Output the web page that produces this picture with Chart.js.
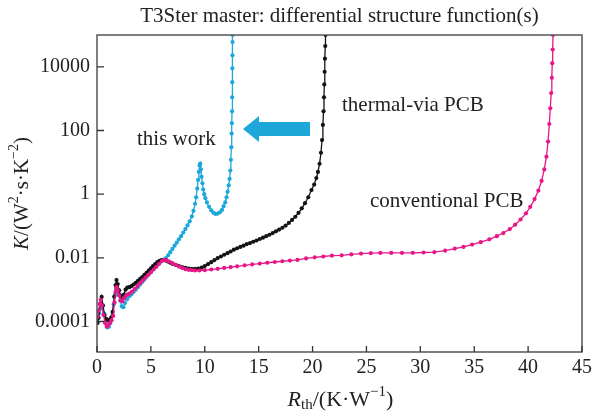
<!DOCTYPE html>
<html>
<head>
<meta charset="utf-8">
<script src="https://cdn.jsdelivr.net/npm/chart.js@4"></script>
<style>
  body { margin: 0; background: #fff; }
</style>
</head>
<body>
<canvas id="myChart" width="596" height="414"></canvas>
<script>
// "this work" (cyan)
const cyanX = [0.05, 0.2, 0.35, 0.5, 0.65, 0.8, 0.95, 1.1, 1.25, 1.4, 1.55, 1.7, 1.85, 2.0, 2.15, 2.3, 2.45, 2.6, 2.8, 3.0,
  3.2, 3.4, 3.6, 3.8, 4.0, 4.2, 4.4, 4.6, 4.8, 5.0, 5.2, 5.4, 5.6, 5.8, 6.0, 6.2, 6.4, 6.6, 6.8, 7.0,
  7.2, 7.4, 7.6, 7.8, 8.0, 8.2, 8.4, 8.6, 8.8, 8.95, 9.1, 9.2, 9.3, 9.38, 9.45, 9.52, 9.58, 9.64, 9.7, 9.78,
  9.86, 9.95, 10.05, 10.2, 10.4, 10.6, 10.8, 11.0, 11.2, 11.4, 11.6, 11.75, 11.9, 12.02, 12.12, 12.22, 12.3, 12.37, 12.42, 12.46,
  12.49, 12.51, 12.53, 12.54, 12.55, 12.56, 12.57, 12.58, 12.59];
const cyanY = [1.2e-4, 1.8e-4, 2.6e-4, 2.9e-4, 1.8e-4, 9e-5, 6.5e-5, 6.8e-5, 9e-5, 1.5e-4, 3.5e-4, 7e-4, 9.5e-4, 7e-4, 4.5e-4, 3e-4, 2.8e-4, 3.8e-4, 5e-4, 6.2e-4,
  7.2e-4, 8.5e-4, 1.0e-3, 1.2e-3, 1.45e-3, 1.75e-3, 2.1e-3, 2.55e-3, 3.05e-3, 3.6e-3, 4.3e-3, 5.1e-3, 6.0e-3, 6.9e-3, 7.8e-3, 8.6e-3, 9.8e-3, 0.012, 0.015, 0.019,
  0.024, 0.030, 0.038, 0.048, 0.062, 0.08, 0.105, 0.14, 0.2, 0.3, 0.5, 0.8, 1.5, 2.8, 5, 8, 9.2, 6, 3.5, 2.2,
  1.4, 1.0, 0.75, 0.55, 0.4, 0.31, 0.26, 0.24, 0.245, 0.27, 0.32, 0.42, 0.55, 0.8, 1.2, 1.9, 3, 5.5, 12, 30,
  80, 170, 400, 1100, 3300, 9000, 23000, 60000, 100000];

// "thermal-via PCB" (black)
const blackX = [0.05, 0.15, 0.3, 0.43, 0.55, 0.7, 0.85, 1.0, 1.15, 1.3, 1.45, 1.6, 1.72, 1.81, 1.92, 2.05, 2.2, 2.35, 2.5, 2.65,
  2.8, 3.0, 3.2, 3.4, 3.6, 3.8, 4.0, 4.2, 4.4, 4.6, 4.8, 5.0, 5.2, 5.4, 5.6, 5.8, 6.0, 6.2, 6.4, 6.6,
  6.8, 7.0, 7.3, 7.6, 7.9, 8.2, 8.5, 8.8, 9.1, 9.4, 9.7, 10.0, 10.3, 10.6, 10.9, 11.2, 11.5, 11.8, 12.1, 12.4,
  12.7, 13.0, 13.3, 13.6, 13.9, 14.2, 14.5, 14.8, 15.1, 15.4, 15.7, 16.0, 16.3, 16.6, 16.9, 17.2, 17.5, 17.8, 18.1, 18.4,
  18.7, 19.0, 19.3, 19.6, 19.9, 20.15, 20.35, 20.5, 20.65, 20.78, 20.88, 20.96, 21.02, 21.06, 21.09, 21.12, 21.15, 21.18, 21.2];
const blackY = [9e-5, 1.3e-4, 3.5e-4, 5.9e-4, 3.2e-4, 1.6e-4, 1.2e-4, 1.1e-4, 1.1e-4, 1.3e-4, 2e-4, 6e-4, 1.4e-3, 2.0e-3, 1.5e-3, 9.5e-4, 6.5e-4, 5e-4, 7e-4, 1.0e-3,
  1.15e-3, 1.2e-3, 1.3e-3, 1.45e-3, 1.65e-3, 1.9e-3, 2.2e-3, 2.5e-3, 2.9e-3, 3.4e-3, 4.0e-3, 4.7e-3, 5.5e-3, 6.4e-3, 7.3e-3, 8.0e-3, 8.5e-3, 8.6e-3, 8.2e-3, 7.6e-3,
  7.0e-3, 6.5e-3, 6.0e-3, 5.5e-3, 5.1e-3, 4.8e-3, 4.6e-3, 4.5e-3, 4.5e-3, 4.6e-3, 4.9e-3, 5.5e-3, 6.3e-3, 7.3e-3, 8.5e-3, 9.8e-3, 0.011, 0.0125, 0.014, 0.0158,
  0.018, 0.02, 0.022, 0.024, 0.027, 0.029, 0.032, 0.035, 0.039, 0.043, 0.048, 0.053, 0.06, 0.068, 0.077, 0.088, 0.103, 0.125, 0.155, 0.195,
  0.26, 0.36, 0.52, 0.8, 1.35, 2.0, 3.2, 5, 9, 20, 50, 150, 400, 1100, 2800, 7000, 18000, 45000, 100000];

// "conventional PCB" (magenta)
const pinkX = [0.05, 0.15, 0.25, 0.34, 0.45, 0.6, 0.75, 0.9, 1.05, 1.2, 1.35, 1.5, 1.62, 1.72, 1.81, 1.92, 2.05, 2.2, 2.35, 2.5,
  2.65, 2.8, 3.0, 3.25, 3.5, 3.75, 4.0, 4.25, 4.5, 4.75, 5.0, 5.25, 5.5, 5.75, 6.0, 6.2, 6.45, 6.7, 7.0, 7.3,
  7.6, 7.9, 8.2, 8.5, 8.8, 9.1, 9.5, 10.0, 10.6, 11.2, 11.8, 12.4, 13.0, 13.7, 14.4, 15.1, 15.8, 16.5, 17.2, 17.9,
  18.6, 19.4, 20.2, 21.0, 21.8, 22.7, 23.6, 24.5, 25.4, 26.3, 27.3, 28.3, 29.3, 30.3, 31.3, 32.3, 33.2, 34.0, 34.8, 35.6,
  36.4, 37.1, 37.7, 38.3, 38.8, 39.3, 39.8, 40.2, 40.6, 40.95, 41.25, 41.5, 41.7, 41.85, 41.97, 42.06, 42.14, 42.2, 42.24, 42.28, 42.31];
const pinkY = [1.4e-4, 2.2e-4, 3.6e-4, 4.8e-4, 3.2e-4, 1.6e-4, 9e-5, 7e-5, 7.5e-5, 9e-5, 1.1e-4, 1.5e-4, 4e-4, 8.5e-4, 1.2e-3, 9.5e-4, 6.5e-4, 4.6e-4, 4.3e-4, 5.3e-4,
  6.3e-4, 7e-4, 7.5e-4, 8.7e-4, 1.05e-3, 1.3e-3, 1.6e-3, 1.95e-3, 2.4e-3, 2.9e-3, 3.5e-3, 4.3e-3, 5.2e-3, 6.4e-3, 7.8e-3, 8.6e-3, 8.3e-3, 7.6e-3, 6.8e-3, 6.0e-3,
  5.3e-3, 4.8e-3, 4.4e-3, 4.2e-3, 4.1e-3, 4.0e-3, 4.0e-3, 4.1e-3, 4.3e-3, 4.5e-3, 4.8e-3, 5.1e-3, 5.4e-3, 5.8e-3, 6.2e-3, 6.6e-3, 7.0e-3, 7.4e-3, 7.8e-3, 8.2e-3,
  8.6e-3, 9.6e-3, 0.0104, 0.011, 0.0117, 0.012, 0.0128, 0.0136, 0.014, 0.0143, 0.0142, 0.0142, 0.0144, 0.0147, 0.015, 0.0168, 0.0195, 0.022, 0.026, 0.031,
  0.038, 0.048, 0.06, 0.08, 0.11, 0.16, 0.25, 0.4, 0.7, 1.3, 2.6, 6, 15, 45, 160, 500, 1500, 4500, 13000, 35000, 100000];

const xTicks = [0, 5, 10, 15, 20, 25, 30, 35, 40, 45];
const yTicks = [0.0001, 0.01, 1, 100, 10000];
const yTickLabels = ["0.0001", "0.01", "1", "100", "10000"];

const titleText = "T3Ster master: differential structure function(s)";
const seriesNames = ["this work", "thermal-via PCB", "conventional PCB"];

const CYAN = "rgb(28, 168, 218)";
const BLACK = "rgb(20, 20, 20)";
const PINK = "rgb(232, 22, 135)";
const SERIF = '"Liberation Serif", "Times New Roman", serif';

function toPoints(xs, ys) {
  return xs.map((x, i) => ({ x: x, y: ys[i] }));
}

function drawRuns(ctx, runs, cx, cy, size) {
  let total = 0;
  const fontOf = (r) => (r.it ? "italic " : "") + ((r.sup || r.sub) ? Math.round(size * 0.68) : size) + "px " + SERIF;
  runs.forEach((r) => {
    ctx.font = fontOf(r);
    r.w = ctx.measureText(r.t).width;
    total += r.w;
  });
  let x = cx - total / 2;
  runs.forEach((r) => {
    ctx.font = fontOf(r);
    let dy = r.sup ? -size * 0.36 : r.sub ? size * 0.25 : 0;
    ctx.fillText(r.t, x, cy + dy);
    x += r.w;
  });
}

// рамка, засечки внутрь, подписи, стрелка
const decor = {
  id: "decor",
  afterDraw(chart) {
    const ctx = chart.ctx;
    const a = chart.chartArea;
    const xs = chart.scales.x;
    const ys = chart.scales.y;
    ctx.save();

    ctx.strokeStyle = "#555";
    ctx.lineWidth = 1.5;
    ctx.strokeRect(a.left, a.top, a.right - a.left, a.bottom - a.top);

    ctx.strokeStyle = "#333";
    ctx.lineWidth = 1.3;
    ctx.beginPath();
    xTicks.forEach((v) => {
      const px = xs.getPixelForValue(v);
      ctx.moveTo(px, a.bottom);
      ctx.lineTo(px, a.bottom - 6);
    });
    yTicks.forEach((v) => {
      const py = ys.getPixelForValue(v);
      ctx.moveTo(a.left, py);
      ctx.lineTo(a.left + 7, py);
    });
    ctx.stroke();

    ctx.fillStyle = "#222";
    ctx.textBaseline = "middle";
    ctx.textAlign = "left";
    const cx = (a.left + a.right) / 2;
    ctx.font = "21px " + SERIF;
    const tw = ctx.measureText(titleText).width;
    ctx.fillText(titleText, cx - tw / 2, 16);

    drawRuns(ctx, [
      { t: "R", it: true }, { t: "th", sub: true }, { t: "/(K·W" }, { t: "−1", sup: true }, { t: ")" }
    ], cx + 1, 400, 22);

    ctx.save();
    ctx.translate(22, (a.top + a.bottom) / 2);
    ctx.rotate(-Math.PI / 2);
    drawRuns(ctx, [
      { t: "K", it: true }, { t: "/(W" }, { t: "2", sup: true }, { t: "·s·K" }, { t: "−2", sup: true }, { t: ")" }
    ], 0, 0, 21);
    ctx.restore();

    ctx.font = "21px " + SERIF;
    ctx.fillText(seriesNames[0], 137, 139);
    ctx.fillText(seriesNames[1], 342, 105);
    ctx.fillText(seriesNames[2], 370, 201);

    ctx.fillStyle = "rgb(30, 168, 218)";
    ctx.beginPath();
    ctx.moveTo(243, 129);
    ctx.lineTo(259, 116);
    ctx.lineTo(259, 122);
    ctx.lineTo(310, 122);
    ctx.lineTo(310, 136);
    ctx.lineTo(259, 136);
    ctx.lineTo(259, 142);
    ctx.closePath();
    ctx.fill();

    ctx.restore();
  }
};

function series(label, xs, ys, color) {
  return {
    label: label,
    data: toPoints(xs, ys),
    borderColor: color,
    backgroundColor: color,
    borderWidth: 1.3,
    pointRadius: 2.1,
    pointBorderWidth: 0,
    pointBackgroundColor: color,
    fill: false,
    tension: 0
  };
}

const cfg = {
  type: "line",
  data: {
    datasets: [
      series(seriesNames[2], pinkX, pinkY, PINK),
      series(seriesNames[1], blackX, blackY, BLACK),
      series(seriesNames[0], cyanX, cyanY, CYAN)
    ]
  },
  options: {
    responsive: false,
    animation: false,
    layout: { padding: { top: 35, right: 11, left: 0, bottom: 0 } },
    plugins: { legend: { display: false }, tooltip: { enabled: false } },
    scales: {
      x: {
        type: "linear",
        min: 0,
        max: 45,
        grid: { display: false, drawTicks: false },
        border: { display: false },
        ticks: {
          stepSize: 5,
          padding: 4,
          color: "#222",
          font: { family: SERIF, size: 20 },
          maxRotation: 0
        },
        afterFit: (s) => { s.height = 62; }
      },
      y: {
        type: "logarithmic",
        min: 1.1e-5,
        max: 1e5,
        grid: { display: false, drawTicks: false },
        border: { display: false },
        ticks: {
          padding: 7,
          color: "#222",
          font: { family: SERIF, size: 20 },
          callback: (v) => {
            const i = yTicks.indexOf(v);
            return i >= 0 ? yTickLabels[i] : "";
          }
        },
        afterBuildTicks: (s) => { s.ticks = yTicks.map((v) => ({ value: v })); },
        afterFit: (s) => { s.width = 97; }
      }
    }
  },
  plugins: [decor]
};

new Chart(document.getElementById("myChart"), cfg);
</script>
</body>
</html>
